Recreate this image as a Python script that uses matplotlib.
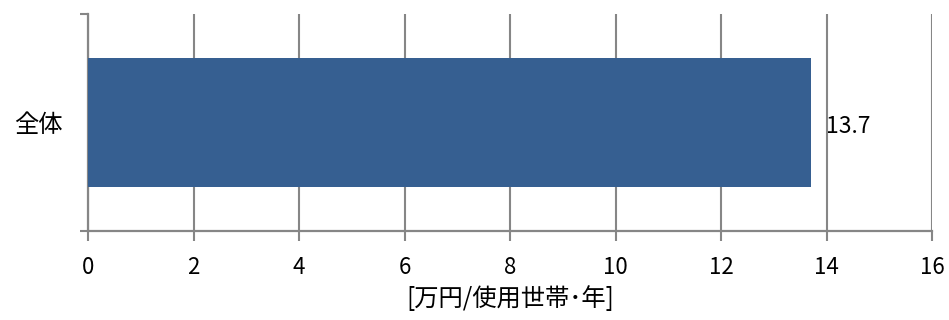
import matplotlib
matplotlib.use("Agg")
import matplotlib.pyplot as plt

plt.rcParams['font.family'] = ['Noto Sans CJK JP', 'DejaVu Sans']

categories = ["全体"]
values = [13.7]
value_labels = ["13.7"]
xticks = [0, 2, 4, 6, 8, 10, 12, 14, 16]
xlabel = "[万円/使用世帯･年]"

bar_color = "#365F91"
axis_color = "#868686"

fig = plt.figure(figsize=(9.49, 3.2), dpi=100)
ax = fig.add_axes([88/949, (320-231)/320, (932-88)/949, (231-14)/320])

ypos = list(range(len(categories)))
ax.barh(ypos, values, height=0.59, color=bar_color, zorder=3)
for y, v, lab in zip(ypos, values, value_labels):
    ax.annotate(lab, xy=(v, y), xytext=(11, -3), textcoords='offset points',
                ha='left', va='center', fontsize=16.5, color='black')

ax.set_xlim(0, 16)
ax.set_ylim(len(categories) - 0.5, -0.5)
ax.set_xticks(xticks)
ax.set_xticklabels([str(t) for t in xticks], fontsize=16)
ax.set_yticks(ypos)
ax.set_yticklabels(categories, fontsize=17.5)
ax.set_yticks([-0.5 + i for i in range(len(categories) + 1)], minor=True)

ax.tick_params(axis='y', which='major', length=0, pad=18)
ax.tick_params(axis='y', which='minor', length=6, width=1.5, color=axis_color)
ax.tick_params(axis='x', which='major', length=7, width=1.5, color=axis_color, pad=11)

for s in ['top', 'right']:
    ax.spines[s].set_visible(False)
for s in ['left', 'bottom']:
    ax.spines[s].set_color(axis_color)
    ax.spines[s].set_linewidth(1.6)

ax.grid(axis='x', color=axis_color, linewidth=1.5, zorder=0)
ax.set_axisbelow(True)

ax.set_xlabel(xlabel, fontsize=17.5, labelpad=5)

fig.savefig("out.png", dpi=100)
